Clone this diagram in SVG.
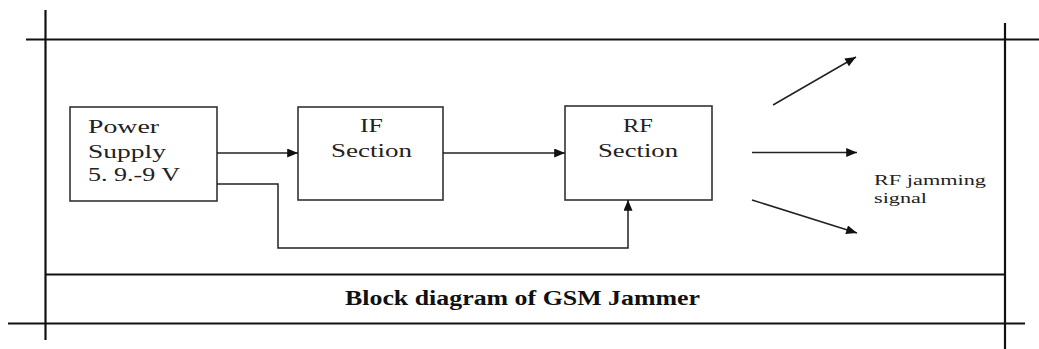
<svg xmlns="http://www.w3.org/2000/svg" width="1039" height="349" viewBox="0 0 1039 349">
<style>
.frame{stroke:#111;stroke-width:2.2;fill:none}
.box{stroke:#333;stroke-width:1.6;fill:#fff}
.conn{stroke:#222;stroke-width:1.5;fill:none}
.t{font-family:"Liberation Serif","Times New Roman","DejaVu Serif",serif;fill:#222}
.lbl{font-size:19px}
.cap{font-size:20px;font-weight:bold;fill:#111}
.sig{font-size:15px}
</style>
<defs>
<marker id="ah" viewBox="0 0 12 10" refX="12" refY="5" markerWidth="12" markerHeight="9" markerUnits="userSpaceOnUse" orient="auto">
<path d="M0,0 L12,5 L0,10 z" fill="#111"/>
</marker>
</defs>
<rect width="1039" height="349" fill="#fff"/>
<g id="frame">
<line class="frame" x1="45.5" y1="10" x2="45.5" y2="340"/>
<line class="frame" x1="1005" y1="23" x2="1005" y2="349"/>
<line class="frame" x1="26" y1="39.5" x2="1039" y2="39.5"/>
<line class="frame" x1="45.5" y1="274.5" x2="1005" y2="274.5"/>
<line class="frame" x1="8" y1="323.5" x2="1025" y2="323.5"/>
</g>
<g id="power-supply">
<rect class="box" x="70" y="107" width="147" height="94"/>
<text class="t lbl" x="88" y="133" textLength="71" lengthAdjust="spacingAndGlyphs">Power</text>
<text class="t lbl" x="88" y="158" textLength="78" lengthAdjust="spacingAndGlyphs">Supply</text>
<text class="t lbl" x="88" y="181" textLength="92" lengthAdjust="spacingAndGlyphs">5. 9.-9 V</text>
</g>
<g id="if-section">
<rect class="box" x="298" y="107" width="145" height="93"/>
<text class="t lbl" x="360" y="132" textLength="23" lengthAdjust="spacingAndGlyphs">IF</text>
<text class="t lbl" x="331" y="157" textLength="81" lengthAdjust="spacingAndGlyphs">Section</text>
</g>
<g id="rf-section">
<rect class="box" x="565" y="106" width="147" height="94"/>
<text class="t lbl" x="623" y="132" textLength="30" lengthAdjust="spacingAndGlyphs">RF</text>
<text class="t lbl" x="598" y="157" textLength="80" lengthAdjust="spacingAndGlyphs">Section</text>
</g>
<g id="connectors">
<line class="conn" x1="217" y1="153" x2="298" y2="153" marker-end="url(#ah)"/>
<line class="conn" x1="443" y1="153" x2="565" y2="153" marker-end="url(#ah)"/>
<polyline class="conn" points="217,184 278,184 278,248 628,248 628,200" marker-end="url(#ah)"/>
<line class="conn" x1="773" y1="105" x2="856" y2="57" marker-end="url(#ah)"/>
<line class="conn" x1="752" y1="152.5" x2="857" y2="152.5" marker-end="url(#ah)"/>
<line class="conn" x1="752" y1="200" x2="857" y2="233" marker-end="url(#ah)"/>
</g>
<g id="rf-jamming-label">
<text class="t sig" x="874" y="185" textLength="112" lengthAdjust="spacingAndGlyphs">RF jamming</text>
<text class="t sig" x="874" y="203" textLength="53" lengthAdjust="spacingAndGlyphs">signal</text>
</g>
<g id="caption">
<text class="t cap" x="345" y="305" textLength="355" lengthAdjust="spacingAndGlyphs">Block diagram of GSM Jammer</text>
</g>
</svg>
